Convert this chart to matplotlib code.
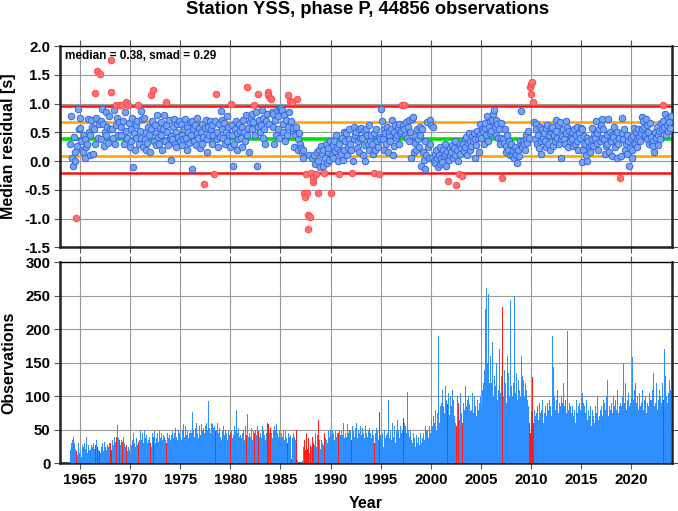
import numpy as np
import matplotlib
matplotlib.use("Agg")
import matplotlib.pyplot as plt

# ---------------- data (monthly, Jan 1964 .. Dec 2023) ----------------
first_year = 1964
median_val = 0.38
smad_val = 0.29

res_1960s = [
    0.30, 0.78, 0.05, -0.08, 0.42, 0.16, 0.00, -0.99, 0.26, 0.90, 0.55, 0.74,
    0.58, 0.35, 0.20, 0.15, 0.46, 0.38, 0.05, 0.25, 0.30, 0.73, 0.50, 0.10,
    0.45, 0.72, 0.60, 0.12, 0.55, 0.30, 1.19, 0.75, 1.56, 0.40, 0.65, 1.52,
    0.38, 0.70, 0.90, 0.64, 0.26, 0.50, 0.85, 0.45, 0.60, 0.32, 0.78, 0.55,
    1.20, 1.76, 0.55, 0.40, 0.88, 0.30, 0.62, 0.98, 0.75, 0.45, 0.68, 0.98,
    0.60, 0.45, 0.98, 0.70, 0.30, 0.85, 0.52, 1.03, 0.40, 0.98, 0.66, 0.25,
]
res_1970s = [
    0.55, 0.35, 0.75, -0.10, 0.48, 0.20, 0.62, 0.40, 0.70, 0.98, 0.30, 0.52,
    0.87, 0.40, 0.73, 0.25, 0.75, 0.38, 0.20, 0.50, 0.32, 0.60, 0.45, 0.15,
    1.15, 0.55, 0.70, 1.23, 0.35, 0.62, 0.28, 0.48, 0.80, 0.42, 0.30, 0.58,
    0.45, 0.68, 0.20, 0.55, 0.80, 0.35, 0.62, 1.03, 0.50, 0.28, 0.72, 0.40,
    0.44, 0.02, 0.38, 0.60, 0.73, 0.30, 0.50, 0.25, 0.65, 0.42, 0.70, 0.35,
    0.64, 0.45, 0.28, 0.38, 0.55, 0.73, 0.40, 0.20, 0.60, 0.50, 0.32, 0.68,
    0.45, 0.70, -0.13, 0.55, 0.35, 0.62, 0.28, 0.48, 0.75, 0.40, 0.58, 0.22,
    0.50, 0.65, 0.30, 0.42, -0.40, 0.58, 0.72, 0.38, 0.15, 0.60, 0.45, 0.70,
    0.55, 0.30, 0.62, 0.45, -0.23, 0.70, 1.16, 0.38, 0.50, 0.25, 0.65, 0.42,
    0.87, 0.72, 0.55, 0.40, 0.66, 0.30, 0.50, 0.78, 0.35, 0.60, 0.45, 0.25,
]
res_1980s = [
    1.00, 0.45, 0.62, -0.08, 0.30, 0.55, 0.70, 0.20, 0.48, 0.38, 0.65, 0.52,
    0.40, 0.60, 0.25, 0.72, 0.50, 0.35, 0.80, 1.28, 0.45, 0.58, 0.15, 0.68,
    0.75, 0.82, 0.55, 0.68, 0.98, 0.45, 0.85, -0.08, 0.60, 1.16, 0.72, 0.50,
    0.62, 0.88, 0.40, 0.75, 0.55, 0.30, 0.70, 0.82, 1.20, 1.15, 0.65, 1.09,
    1.08, 0.85, 0.60, 0.82, 0.30, 0.72, 0.45, 0.88, 0.55, 0.78, 0.40, 0.90,
    0.92, 0.88, 0.65, 0.50, 0.80, 0.35, 0.72, 0.45, 1.15, 0.60, 0.85, 1.05,
    0.70, 1.02, 0.52, 0.58, 0.25, 0.45, 0.60, 1.08, 0.38, 0.20, 0.48, 0.30,
    0.23, 0.15, 0.20, 0.06, -0.56, -0.62, -0.22, -0.56, -0.94, -1.19, 0.10, -0.97,
    -0.21, 0.05, -0.29, -0.37, 0.10, -0.05, -0.22, 0.15, 0.00, -0.55, 0.20, -0.10,
    0.26, 0.12, -0.08, 0.20, -0.21, 0.06, 0.30, -0.03, 0.15, 0.22, 0.02, 0.35,
]
res_1990s = [
    -0.56, 0.10, 0.28, 0.05, 0.35, 0.18, 0.45, 0.22, 0.00, -0.23, 0.30, 0.15,
    0.12, 0.40, 0.02, 0.20, 0.50, 0.35, 0.48, 0.10, 0.25, 0.38, 0.55, 0.30,
    0.20, -0.21, 0.00, 0.38, 0.60, 0.45, 0.50, 0.22, 0.35, 0.15, 0.55, 0.40,
    0.58, 0.40, 0.10, 0.28, 0.52, 0.00, 0.55, 0.45, 0.30, 0.62, 0.20, 0.35,
    0.45, 0.30, 0.12, 0.48, -0.21, 0.20, 0.55, 0.35, 0.25, 0.42, -0.23, 0.38,
    0.90, 0.70, 0.38, 0.20, 0.55, 0.48, 0.30, 0.60, 0.15, 0.45, 0.52, 0.35,
    0.55, 0.72, 0.10, 0.26, 0.50, 0.62, 0.40, 0.45, 0.58, 0.30, 0.65, 0.48,
    0.52, 0.98, 0.62, 0.98, 0.55, 0.45, 0.68, 0.40, 0.60, 0.35, 0.72, 0.50,
    0.06, 0.73, 0.76, 0.15, 0.44, 0.32, 0.20, 0.55, 0.38, 0.25, 0.60, 0.45,
    -0.08, 0.55, 0.15, 0.02, -0.14, 0.35, 0.10, 0.68, 0.25, 0.05, 0.72, 0.30,
]
res_2000s = [
    0.62, 0.05, 0.60, 0.00, 0.12, -0.03, 0.20, 0.06, -0.10, 0.10, 0.25, -0.05,
    0.05, -0.02, 0.20, 0.08, 0.30, 0.12, -0.08, 0.15, -0.34, 0.02, 0.22, 0.10,
    0.15, 0.28, 0.05, 0.22, 0.35, 0.10, -0.42, 0.20, 0.00, -0.23, 0.30, 0.12,
    0.22, -0.26, 0.30, 0.18, 0.38, 0.25, 0.42, 0.10, 0.32, 0.48, 0.20, 0.35,
    0.26, 0.44, 0.35, 0.48, 0.06, 0.38, 0.28, 0.52, 0.40, 0.15, 0.64, 0.45,
    0.40, 0.55, 0.52, 0.30, 0.58, 0.66, 0.45, 0.78, 0.35, 0.60, 0.48, 0.70,
    0.52, 0.72, 0.81, 0.89, 0.60, 0.45, 0.72, 0.64, 0.40, 0.55, 0.30, 0.66,
    0.40, -0.29, 0.38, 0.32, 0.55, 0.15, 0.26, 0.45, 0.20, 0.35, 0.10, 0.28,
    0.30, 0.12, 0.18, 0.05, 0.25, 0.15, 0.10, -0.03, 0.20, 0.08, 0.35, 0.87,
    0.28, 0.25, 0.35, 0.30, 0.20, 0.38, 0.45, 0.32, 0.52, 0.40, 1.28, 1.16,
]
res_2010s = [
    1.34, 1.37, 1.03, 0.67, 0.38, 0.65, 0.55, 0.30, 0.45, 0.22, 0.60, 0.35,
    0.12, 0.55, 0.40, 0.48, 0.35, 0.58, 0.25, 0.62, 0.30, 0.45, 0.20, 0.50,
    0.58, 0.60, 0.26, 0.45, 0.35, 0.52, 0.72, 0.40, 0.62, 0.30, 0.68, 0.38,
    0.06, 0.44, 0.55, 0.38, 0.30, 0.70, 0.48, 0.60, 0.25, 0.52, 0.35, 0.42,
    0.50, 0.38, 0.26, 0.55, 0.30, 0.45, 0.60, 0.35, 0.20, 0.48, 0.40, 0.58,
    0.55, -0.01, 0.20, 0.44, 0.30, 0.10, 0.40, 0.00, 0.35, 0.25, 0.15, 0.28,
    0.38, 0.58, 0.26, 0.45, 0.40, 0.70, 0.32, 0.48, 0.20, 0.55, 0.35, 0.62,
    0.73, 0.40, 0.55, 0.38, 0.12, 0.26, 0.45, 0.30, 0.73, 0.15, 0.50, 0.35,
    0.46, 0.09, 0.42, 0.60, 0.25, 0.35, 0.50, 0.05, 0.30, 0.40, -0.29, 0.08,
    0.75, 0.48, 0.38, 0.55, 0.20, 0.30, 0.45, 0.12, 0.35, -0.08, 0.22, 0.40,
]
res_2020s = [
    0.20, 0.06, 0.44, 0.58, 0.30, 0.50, 0.38, 0.25, 0.55, 0.42, 0.35, 0.48,
    0.55, 0.77, 0.70, 0.60, 0.45, 0.73, 0.38, 0.62, 0.50, 0.30, 0.66, 0.42,
    0.32, 0.35, 0.26, 0.15, 0.50, 0.40, 0.60, 0.28, 0.45, 0.52, 0.38, 0.66,
    0.55, 0.70, 0.98, 0.60, 0.82, 0.45, 0.62, 0.75, 0.52, 0.68, 0.58, 0.78,
]

obs_1960s = [
    20, 30, 35, 67, 40, 30, 22, 18, 12, 25, 30, 15,
    18, 10, 28, 38, 25, 30, 22, 40, 15, 10, 28, 20,
    20, 28, 25, 15, 30, 22, 28, 35, 25, 45, 20, 18,
    15, 25, 30, 22, 18, 32, 25, 20, 28, 15, 25, 30,
    30, 20, 35, 25, 28, 40, 32, 39, 57, 25, 38, 35,
    28, 35, 32, 22, 40, 30, 25, 28, 18, 45, 25, 20,
]
obs_1970s = [
    15, 28, 35, 62, 45, 30, 25, 38, 28, 32, 40, 35,
    48, 35, 45, 30, 28, 50, 38, 42, 30, 35, 45, 40,
    30, 25, 45, 40, 35, 48, 30, 38, 45, 32, 40, 50,
    38, 45, 35, 42, 67, 40, 35, 30, 45, 38, 50, 42,
    35, 42, 48, 38, 30, 45, 52, 40, 35, 50, 38, 45,
    40, 35, 50, 58, 45, 40, 55, 42, 48, 38, 52, 45,
    50, 45, 77, 48, 55, 40, 52, 60, 45, 38, 50, 55,
    42, 58, 48, 52, 70, 45, 55, 60, 50, 93, 65, 52,
    45, 60, 58, 52, 40, 55, 48, 50, 60, 45, 52, 50,
    40, 35, 48, 55, 42, 38, 50, 45, 35, 48, 42, 38,
]
obs_1980s = [
    45, 50, 38, 42, 55, 35, 48, 80, 45, 52, 40, 38,
    42, 38, 45, 50, 35, 48, 55, 42, 73, 40, 45, 38,
    40, 52, 35, 48, 45, 38, 50, 42, 55, 48, 40, 52,
    45, 38, 55, 48, 42, 50, 35, 45, 60, 58, 45, 40,
    52, 45, 38, 48, 55, 42, 50, 58, 45, 40, 48, 42,
    38, 45, 40, 50, 35, 42, 48, 38, 30, 45, 40, 35,
    42, 6, 38, 45, 40, 35, 30, 49, 5, 2, 1, 1,
    1, 2, 3, 25, 35, 20, 30, 45, 22, 38, 15, 28,
    35, 25, 40, 30, 28, 45, 38, 25, 42, 65, 35, 22,
    40, 35, 30, 28, 45, 38, 42, 35, 30, 48, 40, 50,
]
obs_1990s = [
    35, 42, 50, 45, 35, 48, 83, 40, 45, 45, 50, 42,
    55, 48, 42, 60, 38, 45, 52, 40, 58, 45, 50, 48,
    42, 35, 55, 48, 40, 52, 45, 60, 38, 50, 45, 55,
    48, 42, 52, 45, 38, 55, 50, 45, 40, 48, 52, 45,
    45, 38, 50, 42, 30, 45, 52, 40, 48, 35, 76, 42,
    40, 35, 45, 25, 50, 38, 42, 30, 45, 95, 38, 48,
    35, 45, 60, 40, 55, 30, 48, 42, 65, 50, 38, 55,
    45, 100, 50, 67, 60, 55, 45, 62, 107, 50, 40, 48,
    35, 40, 30, 45, 38, 25, 42, 35, 30, 40, 28, 45,
    30, 40, 38, 45, 35, 55, 50, 42, 48, 38, 55, 45,
]
obs_2000s = [
    65, 45, 55, 70, 60, 80, 50, 65, 75, 190, 60, 85,
    90, 70, 110, 85, 75, 115, 95, 80, 88, 105, 72, 100,
    85, 110, 75, 95, 70, 60, 55, 100, 80, 90, 65, 105,
    75, 60, 105, 90, 80, 115, 85, 95, 70, 100, 88, 78,
    80, 105, 90, 75, 100, 85, 70, 95, 110, 80, 90, 100,
    85, 110, 95, 120, 140, 231, 262, 150, 180, 253, 120, 160,
    120, 181, 140, 100, 130, 115, 150, 95, 125, 110, 170, 105,
    130, 233, 115, 100, 140, 120, 90, 160, 110, 135, 100, 243,
    115, 100, 130, 120, 250, 105, 135, 95, 115, 125, 110, 100,
    160, 130, 115, 125, 100, 120, 110, 95, 105, 85, 60, 45,
]
obs_2010s = [
    77, 129, 60, 137, 80, 70, 75, 85, 65, 70, 90, 75,
    80, 95, 60, 100, 75, 85, 70, 90, 80, 65, 95, 85,
    70, 190, 143, 85, 100, 80, 95, 110, 75, 165, 90, 85,
    100, 90, 120, 110, 85, 95, 75, 198, 80, 70, 90, 85,
    75, 85, 70, 90, 80, 60, 95, 75, 85, 70, 90, 80,
    100, 105, 90, 110, 85, 75, 95, 65, 80, 90, 70, 85,
    55, 80, 70, 95, 60, 85, 75, 100, 65, 90, 70, 80,
    85, 70, 95, 75, 90, 80, 100, 125, 70, 85, 95, 80,
    90, 75, 100, 85, 70, 95, 80, 110, 75, 85, 128, 90,
    85, 100, 150, 90, 110, 120, 80, 95, 105, 85, 115, 90,
]
obs_2020s = [
    100, 159, 95, 110, 85, 120, 90, 100, 80, 105, 95, 85,
    90, 110, 80, 95, 85, 100, 75, 90, 85, 105, 80, 95,
    95, 110, 135, 85, 100, 90, 120, 80, 95, 110, 85, 100,
    90, 120, 95, 171, 110, 130, 100, 90, 105, 125, 95, 110,
]

year_ticks = [1965, 1970, 1975, 1980, 1985, 1990, 1995, 2000, 2005, 2010, 2015, 2020]
res_ticks = [-1.5, -1.0, -0.5, 0.0, 0.5, 1.0, 1.5, 2.0]
obs_ticks = [0, 50, 100, 150, 200, 250, 300]

# ---------------- assemble ----------------
res = np.array(res_1960s + res_1970s + res_1980s + res_1990s + res_2000s + res_2010s + res_2020s)
obs = np.array(obs_1960s + obs_1970s + obs_1980s + obs_1990s + obs_2000s + obs_2010s + obs_2020s)
t = first_year + (np.arange(len(res)) + 0.5) / 12.0

hi2 = median_val + 2 * smad_val
lo2 = median_val - 2 * smad_val
hi1 = median_val + smad_val
lo1 = median_val - smad_val
outl = (res > hi2) | (res < lo2)

plt.rcParams['font.family'] = ['Liberation Sans', 'DejaVu Sans']
plt.rcParams['font.weight'] = 'bold'

W, H = 678, 511
fig = plt.figure(figsize=(W / 100, H / 100), dpi=100)

left = 60 / W
width = (672 - 60) / W
ax1 = fig.add_axes([left, 1 - 247.3 / H, width, (247.3 - 46) / H])
ax2 = fig.add_axes([left, 1 - 463.3 / H, width, (463.3 - 262.3) / H])

xlim = (1963.0, 2024.07)
grid_kw = dict(color='#9a9a9a', linewidth=0.8)

for ax in (ax1, ax2):
    ax.set_xlim(*xlim)
    ax.set_xticks(year_ticks)
    ax.grid(True, **grid_kw)
    ax.set_axisbelow(True)
    ax.tick_params(direction='out', length=4, width=0.8, color='#555555',
                   top=True, right=True, labelsize=10.8, pad=3)
    for s in ('left', 'bottom', 'right'):
        ax.spines[s].set_linewidth(1.8)
        ax.spines[s].set_color('#222222')
    ax.spines['top'].set_linewidth(1.0)
    ax.spines['top'].set_color('black')

# --- top panel ---
ax1.set_ylim(-1.5, 2.0)
ax1.set_yticks(res_ticks)
ax1.set_yticklabels([f"{v:.1f}" for v in res_ticks], fontweight='bold')
ax1.set_xticklabels([])
ax1.axhline(hi2, color='#ff1010', lw=1.8, zorder=2)
ax1.axhline(lo2, color='#ff1010', lw=1.8, zorder=2)
ax1.axhline(hi1, color='#ffa000', lw=1.8, zorder=2)
ax1.axhline(lo1, color='#ffa000', lw=1.8, zorder=2)
ax1.axhline(median_val, color='#00e000', lw=2.6, zorder=2)
ax1.scatter(t[~outl], res[~outl], s=22, facecolor='#72a6f2', edgecolor='#3a64e0',
            linewidth=0.7, zorder=3)
ax1.scatter(t[outl], res[outl], s=22, facecolor='#ff7070', edgecolor='#ff4a4a',
            linewidth=0.7, zorder=3)
ax1.text(0.008, 0.978, f"median = {median_val:.2f}, smad = {smad_val:.2f}",
         transform=ax1.transAxes, ha='left', va='top', fontsize=8.5, fontweight='bold')

# --- bottom panel ---
ax2.set_ylim(0, 300)
ax2.set_yticks(obs_ticks)
ax2.set_yticklabels([str(v) for v in obs_ticks], fontweight='bold')
ax2.set_xticklabels([str(v) for v in year_ticks], fontweight='bold')
ax2.bar(t[~outl], obs[~outl], width=1 / 12, color='#2f8fff', linewidth=0, zorder=3)
ax2.bar(t[outl], obs[outl], width=1 / 12, color='#ff1a1a', linewidth=0, zorder=4)

# --- labels ---
fig.text(368 / W, 1 - 10 / H, "Station YSS, phase P, 44856 observations",
         ha='center', va='center', fontsize=13.2, fontweight='bold')
fig.text(9 / W, 1 - 146 / H, "Median residual [s]", rotation=90,
         ha='center', va='center', fontsize=11.5, fontweight='bold')
fig.text(9 / W, 1 - 363 / H, "Observations", rotation=90,
         ha='center', va='center', fontsize=11.5, fontweight='bold')
fig.text(366 / W, 1 - 503 / H, "Year", ha='center', va='center',
         fontsize=11.5, fontweight='bold')

fig.savefig("out.png", dpi=100)
